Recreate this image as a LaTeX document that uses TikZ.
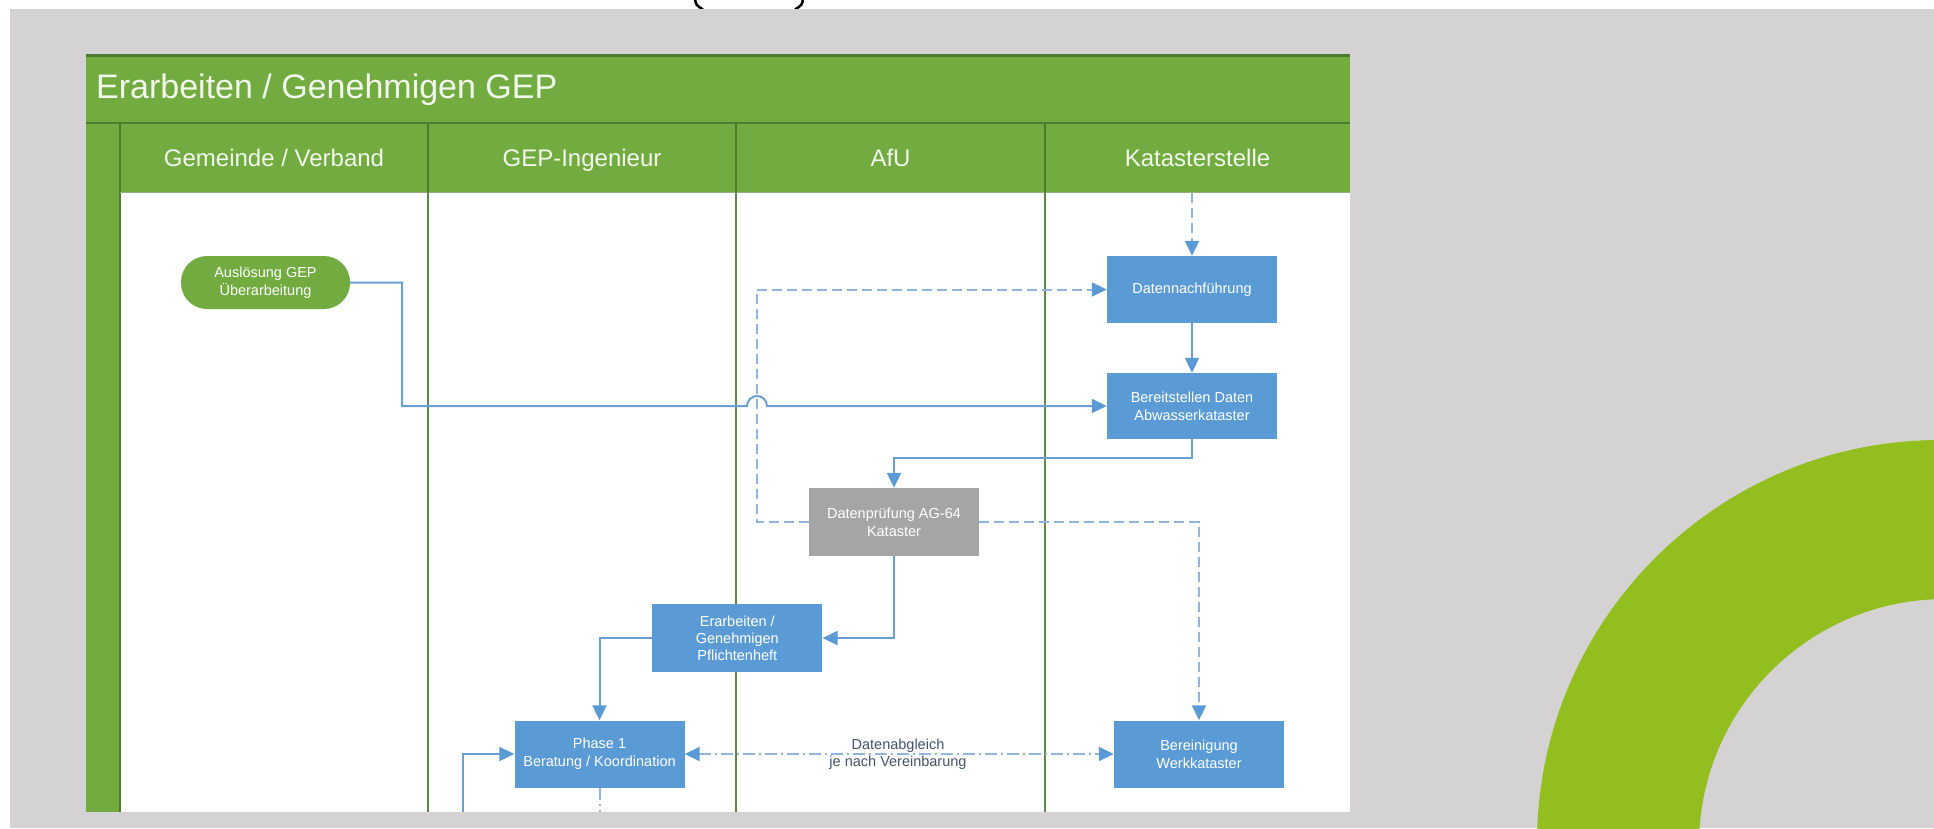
\documentclass[tikz,border=0pt]{standalone}
\usepackage{fontspec}
\setmainfont{Liberation Sans}
\usetikzlibrary{arrows.meta}
\definecolor{bgGrey}{HTML}{D5D2D3}
\definecolor{frameGreen}{HTML}{72AC41}
\definecolor{darkGreen}{HTML}{4C7C2E}
\definecolor{laneLine}{HTML}{62874A}
\definecolor{boxBlue}{HTML}{5B9BD5}
\definecolor{lineBlue}{HTML}{6A9FD6}
\definecolor{dashBlue}{HTML}{8FB5E0}
\definecolor{boxGrey}{HTML}{A5A5A5}
\definecolor{ringGreen}{HTML}{93BE1F}
\definecolor{labelText}{HTML}{44546A}
\definecolor{titleText}{HTML}{F2F7EC}
\begin{document}
\begin{tikzpicture}[x=1pt,y=-1pt,
  procbox/.style={rectangle, fill=boxBlue, minimum width=170pt, minimum height=67pt,
    inner sep=2pt, text=white, align=center, font=\fontsize{14.5}{18}\selectfont},
  greybox/.style={procbox, fill=boxGrey},
  startpill/.style={rectangle, rounded corners=26pt, fill=frameGreen, minimum width=169pt,
    minimum height=53pt, inner sep=2pt, text=white, align=center, font=\fontsize{14.5}{18}\selectfont},
  lanehead/.style={anchor=base, text=titleText, font=\fontsize{24}{28}\selectfont},
  lbl/.style={text=labelText, align=center, inner sep=0pt, font=\fontsize{14.5}{17}\selectfont},
  conn/.style={draw=lineBlue, line width=2pt, -{Triangle[length=15pt,width=14pt,color=boxBlue]}},
  dconn/.style={draw=dashBlue, line width=2pt, dash pattern=on 10pt off 5pt,
    -{Triangle[length=15pt,width=14pt,color=boxBlue]}},
  ddconn/.style={draw=dashBlue, line width=2pt, dash pattern=on 12pt off 4pt on 2pt off 4pt},
  sepline/.style={draw=laneLine, line width=1.5pt},
  headline/.style={draw=darkGreen, line width=1.5pt}
]
\useasboundingbox (0,0) rectangle (1934,828);
% page background
\fill[white] (0,0) rectangle (1934,828);
\draw[black, line width=2.5pt] (695,-1) .. controls (696,5) .. (703,9.5);
\draw[black, line width=2.5pt] (803,-1) .. controls (802,5) .. (795,9.5);
\fill[bgGrey] (10,9) rectangle (1934,828);
% ring
\fill[ringGreen, even odd rule] (1940,843) circle[radius=403pt] (1945,845) circle[radius=246pt];
% frame
\fill[frameGreen] (86,54) rectangle (1350,192);
\fill[frameGreen] (86,192) rectangle (120,812);
\fill[white] (120,192) rectangle (1350,812);
\draw[darkGreen, line width=3pt] (86,55.5) -- (1350,55.5);
\draw[headline] (86,123) -- (1350,123);
\draw[headline] (120,123) -- (120,812);
\draw[draw=darkGreen!60, line width=1pt] (120,192) -- (1350,192);
\foreach \xx in {428,736,1045} {
  \draw[headline] (\xx,123) -- (\xx,192);
  \draw[sepline] (\xx,192) -- (\xx,812);
}
% texts of the frame
\node[anchor=base west, inner sep=0pt, text=titleText, font=\fontsize{34}{40}\selectfont] (title) at (96,98) {Erarbeiten / Genehmigen GEP};
\node[lanehead] (h1) at (274,166) {Gemeinde / Verband};
\node[lanehead] (h2) at (582,166) {GEP-Ingenieur};
\node[lanehead] (h3) at (890.5,166) {AfU};
\node[lanehead] (h4) at (1197.5,166) {Katasterstelle};
% nodes
\node[startpill] (start) at (265.5,282.5) {Auslösung GEP\\Überarbeitung};
\node[procbox] (dn) at (1192,289.5) {Datennachführung};
\node[procbox, minimum height=66pt] (bd) at (1192,406) {Bereitstellen Daten\\Abwasserkataster};
\node[greybox, minimum height=68pt] (dp) at (894,522) {Datenprüfung AG-64\\Kataster};
\node[procbox, minimum height=68pt, font=\fontsize{14.5}{17}\selectfont] (pf) at (737.3,638) {Erarbeiten /\\Genehmigen\\Pflichtenheft};
\node[procbox] (ph) at (599.5,754) {Phase 1\\Beratung / Koordination};
\node[procbox] (bw) at (1199,754) {Bereinigung\\Werkkataster};
\coordinate (topin) at (1192,193);
\coordinate (lin) at (462.5,812);
\coordinate (phdown) at (599.5,812);
% connectors
\draw[dconn] (topin) -- (dn.north);
\draw[conn] (dn.south) -- (bd.north);
\draw[dconn] (dp.west) -- ++(-52,0) |- (dn.west);
\draw[conn] (start.east) -| (402,406) -- (747,406) arc[start angle=180, end angle=0, radius=10pt] -- (bd.west);
\draw[conn] (bd.south) -- ++(0,18.5) -| (dp.north);
\draw[dconn] (dp.east) -| (bw.north);
\draw[conn] (dp.south) |- (pf.east);
\draw[conn] (pf.west) -| (ph.north);
\draw[ddconn, {Triangle[length=15pt,width=14pt,color=boxBlue]}-{Triangle[length=15pt,width=14pt,color=boxBlue]}] (ph.east) -- (bw.west);
\node[lbl] (dlab) at (898,754.5) {Datenabgleich\\je nach Vereinbarung};
\draw[conn] (lin) |- (ph.west);
\draw[ddconn] (ph.south) -- (phdown);
\end{tikzpicture}
\end{document}
